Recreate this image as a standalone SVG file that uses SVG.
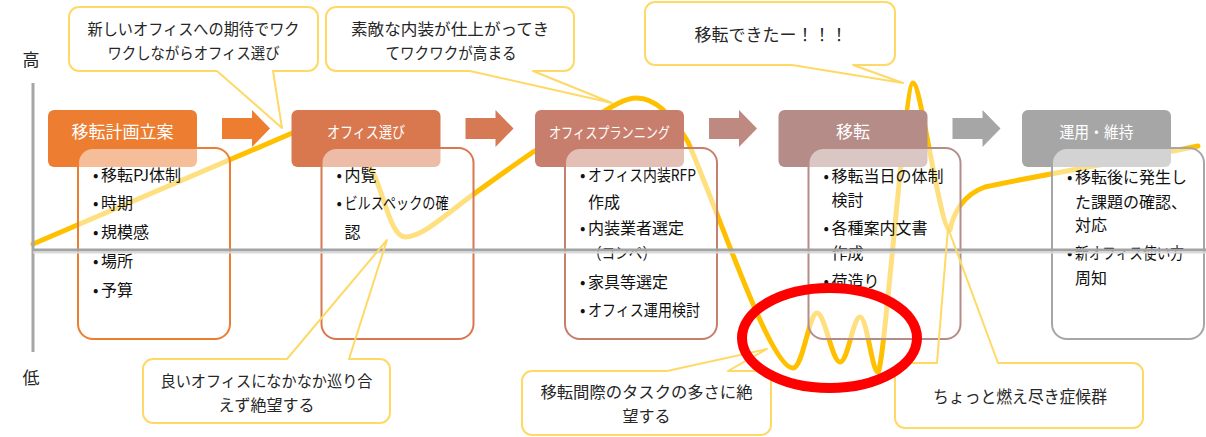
<svg xmlns="http://www.w3.org/2000/svg" width="1206" height="437" viewBox="0 0 1206 437">
<style>
text{font-family:"Noto Sans CJK JP","Liberation Sans",sans-serif;}
.hd{fill:#fff;font-size:17px;text-anchor:middle;}
.tx{fill:#111;font-size:16px;}
.co{fill:#262626;font-size:16px;text-anchor:middle;}
.ax{fill:#262626;font-size:17px;text-anchor:middle;}
.det{fill:#fff;fill-opacity:0.5;stroke-width:2;}
.cbg{fill:#fff;stroke:none;}
.cln{fill:none;stroke:#ffd966;stroke-width:2;stroke-linejoin:round;}
</style>
<rect width="1206" height="437" fill="#fff"/>

<g id="connectors">
<polygon points="222,118 252,118 252,110 270,128.5 252,147 252,139 222,139" fill="#ED7D31"/>
<polygon points="465.5,118 495.5,118 495.5,110 513.5,128.5 495.5,147 495.5,139 465.5,139" fill="#D67A56"/>
<polygon points="709,118 739,118 739,110 757,128.5 739,147 739,139 709,139" fill="#BE8980"/>
<polygon points="952.5,118 982.5,118 982.5,110 1000.5,128.5 982.5,147 982.5,139 952.5,139" fill="#A6A6A6"/>
</g>

<g id="curve">
<path d="M 33 244 L 290 134 C 330 117 362 150 375 177 C 385 200 392 237 405 237 C 420 237 440 220 463 202 C 490 182 510 168 533 152 C 590 125 615 98 637 98 C 655 98 672 115 688 142 C 720 215 770 368 793 368 C 803 368 809 313 817 313 C 825 313 832 362 840 362 C 848 362 853 317 860 317 C 867 317 872 372 878 372 C 884 372 905 83 913 83 C 921 83 940 230 950 230 C 953 215 962 195 985 187 C 1040 175 1130 160 1198 146" fill="none" stroke="#FFC000" stroke-width="5" stroke-linecap="round" stroke-linejoin="round"/>
</g>

<g id="phase1">
<rect x="48" y="110" width="149" height="57" rx="6" fill="#ED7D31"/>
<text class="hd" x="122.5" y="138">移転計画立案</text>
<rect class="det" x="78" y="148" width="152" height="191" rx="15" stroke="#ED7D31"/>
<text class="tx" y="181"><tspan x="93">•</tspan><tspan x="101">移転PJ体制</tspan></text>
<text class="tx" y="209"><tspan x="93">•</tspan><tspan x="101">時期</tspan></text>
<text class="tx" y="238"><tspan x="93">•</tspan><tspan x="101">規模感</tspan></text>
<text class="tx" y="267"><tspan x="93">•</tspan><tspan x="101">場所</tspan></text>
<text class="tx" y="296"><tspan x="93">•</tspan><tspan x="101">予算</tspan></text>
</g>

<g id="phase2">
<rect x="291.5" y="110" width="149" height="57" rx="6" fill="#D9784F"/>
<text class="hd" x="366" y="138" textLength="78" lengthAdjust="spacingAndGlyphs" style="font-size:16px">オフィス選び</text>
<rect class="det" x="321.5" y="148" width="152" height="191" rx="15" stroke="#D9784F"/>
<text class="tx" y="181"><tspan x="336.5">•</tspan><tspan x="344.5">内覧</tspan></text>
<text class="tx" y="209"><tspan x="336.5">•</tspan><tspan x="344.5" textLength="104" lengthAdjust="spacingAndGlyphs">ビルスペックの確</tspan></text>
<text class="tx" x="344.5" y="238">認</text>
</g>

<g id="phase3">
<rect x="535" y="110" width="149" height="57" rx="6" fill="#C77E6D"/>
<text class="hd" x="609.5" y="138" textLength="121" lengthAdjust="spacingAndGlyphs" style="font-size:15px">オフィスプランニング</text>
<rect class="det" x="565" y="148" width="152" height="191" rx="15" stroke="#C77E6D"/>
<text class="tx" y="181"><tspan x="580">•</tspan><tspan x="588" textLength="108" lengthAdjust="spacingAndGlyphs">オフィス内装RFP</tspan></text>
<text class="tx" x="588" y="208">作成</text>
<text class="tx" y="234"><tspan x="580">•</tspan><tspan x="588">内装業者選定</tspan></text>
<text class="tx" x="588" y="259" textLength="68" lengthAdjust="spacingAndGlyphs">（コンペ）</text>
<text class="tx" y="288"><tspan x="580">•</tspan><tspan x="588">家具等選定</tspan></text>
<text class="tx" y="316"><tspan x="580">•</tspan><tspan x="588" textLength="112" lengthAdjust="spacingAndGlyphs">オフィス運用検討</tspan></text>
</g>

<g id="phase4">
<rect x="778.5" y="110" width="149" height="57" rx="6" fill="#B58C87"/>
<text class="hd" x="853" y="138">移転</text>
<rect class="det" x="808.5" y="148" width="152" height="191" rx="15" stroke="#B58C87"/>
<text class="tx" y="182"><tspan x="823.5">•</tspan><tspan x="831.5">移転当日の体制</tspan></text>
<text class="tx" x="831.5" y="206">検討</text>
<text class="tx" y="234"><tspan x="823.5">•</tspan><tspan x="831.5">各種案内文書</tspan></text>
<text class="tx" x="831.5" y="259">作成</text>
<text class="tx" y="287"><tspan x="823.5">•</tspan><tspan x="831.5">荷造り</tspan></text>
</g>

<g id="phase5">
<rect x="1022" y="110" width="149" height="57" rx="6" fill="#A6A6A6"/>
<text class="hd" x="1096.5" y="138" textLength="74" lengthAdjust="spacingAndGlyphs" style="font-size:16px">運用・維持</text>
<rect class="det" x="1052" y="148" width="152" height="191" rx="15" stroke="#A6A6A6"/>
<text class="tx" y="183"><tspan x="1067">•</tspan><tspan x="1075">移転後に発生し</tspan></text>
<text class="tx" x="1075" y="208">た課題の確認、</text>
<text class="tx" x="1075" y="231">対応</text>
<text class="tx" y="259"><tspan x="1067">•</tspan><tspan x="1075" textLength="109" lengthAdjust="spacingAndGlyphs">新オフィス使い方</tspan></text>
<text class="tx" x="1075" y="284">周知</text>
</g>

<g id="axes">
<line x1="33" y1="83" x2="33" y2="352" stroke="#A6A6A6" stroke-width="3"/>
<line x1="33" y1="250" x2="1206" y2="250" stroke="#A3A3A3" stroke-width="3"/>
<line x1="33" y1="252.5" x2="1206" y2="252.5" stroke="#D9D9D9" stroke-width="2"/>
<text class="ax" x="31" y="66">高</text>
<text class="ax" x="31" y="384">低</text>
</g>

<g id="callout1">
<rect class="cbg" x="69" y="7" width="249" height="64" rx="10"/>
<path class="cln" d="M 79 7 H 308 A 10 10 0 0 1 318 17 V 61 A 10 10 0 0 1 308 71 H 273 L 282 128 L 217 71 H 79 A 10 10 0 0 1 69 61 V 17 A 10 10 0 0 1 79 7 Z"/>
<text class="co" x="193.5" y="35" textLength="212" lengthAdjust="spacingAndGlyphs">新しいオフィスへの期待でワク</text>
<text class="co" x="193.5" y="58.5" textLength="172" lengthAdjust="spacingAndGlyphs">ワクしながらオフィス選び</text>
</g>

<g id="callout2">
<rect class="cbg" x="326" y="7" width="248" height="64" rx="10"/>
<path class="cln" d="M 336 7 H 564 A 10 10 0 0 1 574 17 V 61 A 10 10 0 0 1 564 71 H 533 L 612 103 L 470 71 H 336 A 10 10 0 0 1 326 61 V 17 A 10 10 0 0 1 336 7 Z"/>
<text class="co" x="450" y="35" textLength="198" lengthAdjust="spacingAndGlyphs">素敵な内装が仕上がってき</text>
<text class="co" x="451" y="58.5" textLength="131" lengthAdjust="spacingAndGlyphs">てワクワクが高まる</text>
</g>

<g id="callout3">
<rect class="cbg" x="645" y="2" width="250" height="63" rx="10"/>
<path class="cln" d="M 655 2 H 885 A 10 10 0 0 1 895 12 V 55 A 10 10 0 0 1 885 65 H 853 L 903 83 L 792 65 H 655 A 10 10 0 0 1 645 55 V 12 A 10 10 0 0 1 655 2 Z"/>
<text class="co" x="771" y="41" style="font-size:17px">移転できたー！！！</text>
</g>

<g id="callout4">
<rect class="cbg" x="143" y="359" width="247" height="64" rx="10"/>
<path class="cln" d="M 153 359 H 287 L 387 240 L 349 359 H 380 A 10 10 0 0 1 390 369 V 413 A 10 10 0 0 1 380 423 H 153 A 10 10 0 0 1 143 413 V 369 A 10 10 0 0 1 153 359 Z"/>
<text class="co" x="266.5" y="387" textLength="212" lengthAdjust="spacingAndGlyphs">良いオフィスになかなか巡り合</text>
<text class="co" x="266.5" y="410.5">えず絶望する</text>
</g>

<g id="callout5">
<rect class="cbg" x="522" y="371" width="249" height="64" rx="10"/>
<path class="cln" d="M 532 371 H 667 L 767 349 L 728 371 H 761 A 10 10 0 0 1 771 381 V 425 A 10 10 0 0 1 761 435 H 532 A 10 10 0 0 1 522 425 V 381 A 10 10 0 0 1 532 371 Z"/>
<text class="co" x="646.5" y="398" textLength="212" lengthAdjust="spacingAndGlyphs">移転間際のタスクの多さに絶</text>
<text class="co" x="646.5" y="421.5">望する</text>
</g>

<g id="callout6">
<rect class="cbg" x="895" y="363" width="248" height="65" rx="10"/>
<path class="cln" d="M 905 363 H 937 L 948 228 L 998 363 H 1133 A 10 10 0 0 1 1143 373 V 418 A 10 10 0 0 1 1133 428 H 905 A 10 10 0 0 1 895 418 V 373 A 10 10 0 0 1 905 363 Z"/>
<text class="co" x="1020" y="403" textLength="174" lengthAdjust="spacingAndGlyphs" style="font-size:17px">ちょっと燃え尽き症候群</text>
</g>

<g id="highlight">
<ellipse cx="829.5" cy="338" rx="87.5" ry="50" fill="none" stroke="#FF0000" stroke-width="10"/>
</g>
</svg>
